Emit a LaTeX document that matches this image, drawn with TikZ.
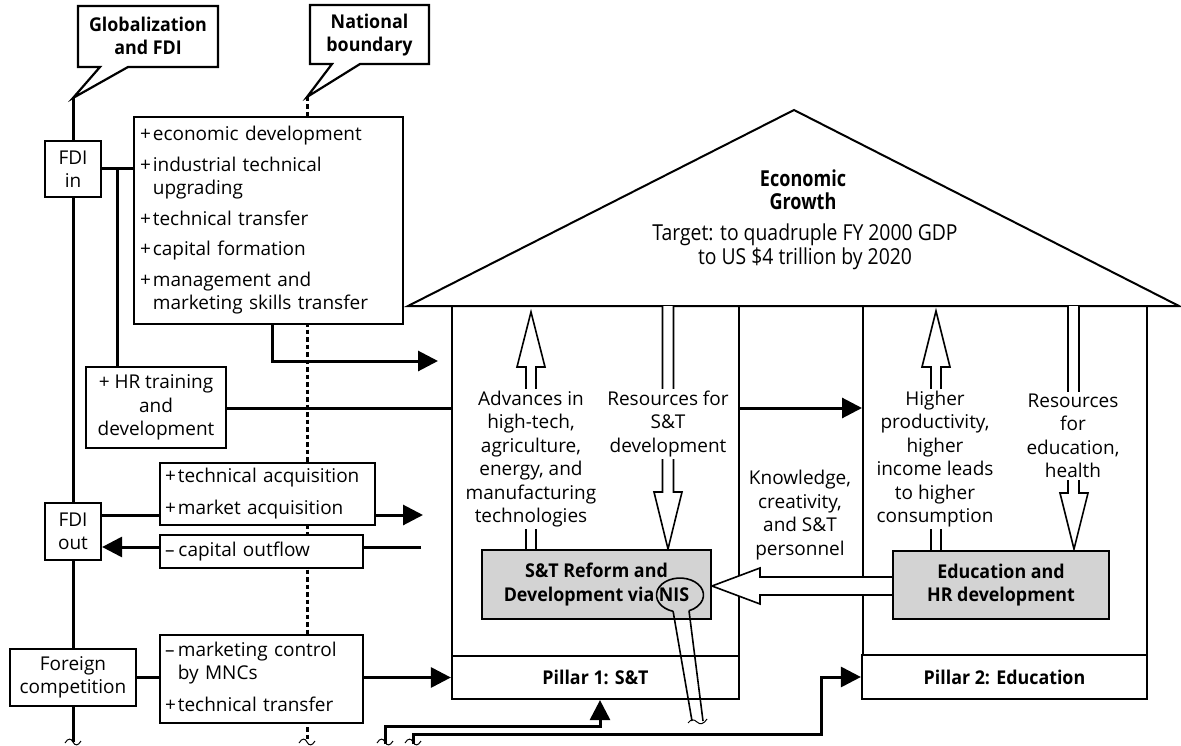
\documentclass[tikz,border=0pt]{standalone}
\usepackage{fontspec}
\setmainfont{Open Sans}
\usetikzlibrary{arrows.meta}
\newcommand\txtsize{\fontsize{19}{23.5}\selectfont}
\newcommand\roofsize{\fontsize{22}{23.5}\selectfont}
\newcommand\boldtxt{\bfseries\addfontfeature{FakeStretch=0.94}}
\definecolor{boxgray}{HTML}{D3D3D3}
\begin{document}
\begin{tikzpicture}[x=1pt,y=-1pt,
  conn/.style={line width=3pt},
  arr/.style={conn,-{Triangle[length=20pt,width=20pt]}},
  dotline/.style={line width=3pt,dash pattern=on 4.5pt off 3pt},
  wall/.style={line width=2pt},
  cbox/.style={draw,line width=2.2pt,fill=white,line join=miter},
  box/.style={draw,line width=2.2pt,fill=white,inner sep=0pt,font=\txtsize,align=center},
  graybox/.style={box,fill=boxgray,font=\txtsize\boldtxt},
  hollow/.style={draw,fill=white,line width=1.6pt,line join=miter},
  lbl/.style={fill=white,inner sep=2pt,font=\txtsize,align=center},
  brk/.pic={\draw[line width=1pt] (-8,1) .. controls (-5,-4) and (-2,-4) .. (0,0) .. controls (2,4) and (5,4) .. (8,-1);}
]
\useasboundingbox (0,0) rectangle (1181,746);

% ---------- vertical guide lines ----------
\coordinate (globtip) at (73,98);
\coordinate (nattip) at (307,97);
\draw[conn] (globtip) -- (73,742);
\draw[dotline] (nattip) -- (307,742);
\pic at (73,742) {brk};
\pic at (307,742) {brk};

% ---------- callouts ----------
\draw[cbox] (78,6) -- (218,6) -- (218,67) -- (128,67) -- (globtip) -- (100,67) -- (78,67) -- cycle;
\node[font=\txtsize\boldtxt,align=center] (glob) at (148,36) {Globalization\\and FDI};
\draw[cbox] (310,5) -- (429,5) -- (429,64) -- (360,64) -- (nattip) -- (332,64) -- (310,64) -- cycle;
\node[font=\txtsize\boldtxt,align=center] (nat) at (369.5,35) {National\\boundary};

% ---------- house ----------
\draw[wall,line join=miter] (408,306) -- (794,110) -- (1179,306) -- cycle;
\draw[wall] (452,306) -- (452,656);
\draw[wall] (739,306) -- (739,656);
\draw[wall] (863,306) -- (863,655);
\draw[wall] (1147,306) -- (1147,655);
\node[font={\roofsize\bfseries\addfontfeature{FakeStretch=0.82}},align=center] (eg) at (803,190) {Economic\\Growth};
\node[font={\roofsize\addfontfeature{FakeStretch=0.88}},align=center] (target) at (805,247) {Target: to quadruple FY 2000 GDP\\to US \$4 trillion by 2020};

% hollow arrows inside the pillars
\draw[hollow] (526,551) -- (526,367) -- (517,367) -- (531,312) -- (545,367) -- (536,367) -- (536,551);
\draw[hollow] (662.5,306) -- (662.5,492) -- (654,492) -- (668,549) -- (682,492) -- (673.5,492) -- (673.5,306);
\draw[hollow] (931,551) -- (931,367) -- (922,367) -- (936,311) -- (950,367) -- (941,367) -- (941,551);
\draw[hollow] (1068,306) -- (1068,493) -- (1060,493) -- (1074,549) -- (1088,493) -- (1079,493) -- (1079,306);

\node[lbl] (adv) at (531,459) {Advances in\\high-tech,\\agriculture,\\energy, and\\manufacturing\\technologies};
\node[lbl] (res) at (668,424) {Resources for\\S\&T\\development};
\node[lbl] (know) at (800,515) {Knowledge,\\creativity,\\and S\&T\\personnel};
\node[lbl] (higher) at (935,459) {Higher\\productivity,\\higher\\income leads\\to higher\\consumption};
\node[lbl] (resedu) at (1073,436) {Resources\\for\\education,\\health};

% knowledge flow from education to S&T
\draw[hollow] (893,577) -- (760,577) -- (760,568) -- (712,586) -- (760,604) -- (760,595) -- (893,595);

\node[graybox,minimum width=229pt,minimum height=69pt] (st) at (596.5,584.5) {S\&T Reform and\\Development via NIS};
\node[graybox,minimum width=216pt,minimum height=68pt] (edu) at (1001,585) {Education and\\HR development};
\node[box,minimum width=287pt,minimum height=43pt,font=\txtsize\boldtxt] (p1) at (595.5,677.5) {Pillar 1: S\&T};
\node[box,minimum width=285pt,minimum height=44pt,font=\txtsize\boldtxt] (p2) at (1004.5,677) {Pillar 2: Education};

% NIS magnifier
\draw[line width=1.6pt] (673.1,611.3) arc[start angle=107,end angle=427.5,x radius=23.5,y radius=17];
\draw[line width=1.6pt] (673.1,611.3) -- (692,721);
\draw[line width=1.6pt] (689,610.7) -- (703,721);
\draw[line width=1pt] (688,723) .. controls (691,719) and (694,719) .. (697,722) .. controls (700,725) and (704,724) .. (707,719);

% ---------- left-hand boxes ----------
\node[box,minimum width=56pt,minimum height=56pt] (fdiin) at (73,169) {FDI\\in};
\node[box,minimum width=269pt,minimum height=207pt,text width=257pt,align=left] (econ) at (268.5,220.5)
{\begin{tabular}{@{}l@{\hspace{2pt}}l@{}}
+&economic development\\[7pt]
+&industrial technical\\
 &upgrading\\[7pt]
+&technical transfer\\[7pt]
+&capital formation\\[7pt]
+&management and\\
 &marketing skills transfer
\end{tabular}};
\node[box,minimum width=140pt,minimum height=81pt] (hr) at (156,407.5) {+ HR training\\and\\development};
\node[box,minimum width=215pt,minimum height=62pt,text width=205pt,align=left] (tech) at (267.5,494)
{\begin{tabular}{@{}l@{\hspace{2pt}}l@{}}
+&technical acquisition\\[8pt]
+&market acquisition
\end{tabular}};
\node[box,minimum width=56pt,minimum height=57pt] (fdiout) at (73,531.5) {FDI\\out};
\node[box,minimum width=203pt,minimum height=33pt,text width=193pt,align=left] (cap) at (261.5,551.5)
{\begin{tabular}{@{}l@{\hspace{4pt}}l@{}}
--&capital outflow
\end{tabular}};
\node[box,minimum width=126pt,minimum height=57pt] (foreign) at (73,677.5) {Foreign\\competition};
\node[box,minimum width=203pt,minimum height=88pt,text width=193pt,align=left] (mkt) at (261.5,679)
{\begin{tabular}{@{}l@{\hspace{2pt}}l@{}}
--&marketing control\\
 &by MNCs\\[8pt]
+&technical transfer
\end{tabular}};

% ---------- connectors ----------
\coordinate (j1) at (117,169);
\draw[conn] (fdiin.east) -- (fdiin.east -| econ.west);
\draw[conn] (j1) -- (j1 |- hr.north);
\coordinate (e1) at (272,361);
\coordinate (e2) at (438,361);
\draw[arr] (econ.south -| e1) -- (e1) -- (e2);
\coordinate (w1) at (452,408);
\coordinate (w2) at (739,408);
\coordinate (w3) at (862,408);
\draw[conn] (hr.east |- w1) -- (w1);
\draw[arr] (w2) -- (w3);
\coordinate (t1) at (423,515);
\draw[conn] (fdiout.east |- t1) -- (tech.west |- t1);
\draw[arr] (tech.east |- t1) -- (t1);
\coordinate (c1) at (421,547);
\draw[conn] (c1) -- (cap.east |- c1);
\draw[arr] (cap.west |- c1) -- (fdiout.east |- c1);
\draw[conn] (foreign.east) -- (foreign.east -| mkt.west);
\draw[arr] (mkt.east |- p1.west) -- (p1.west);
\coordinate (a0) at (385,744);
\coordinate (a1) at (385,726);
\coordinate (a2) at (600,726);
\draw[arr] (a0) -- (a1) -- (a2) -- (a2 |- p1.south);
\pic at (385,742) {brk};
\coordinate (b0) at (413,744);
\coordinate (b1) at (413,734);
\coordinate (b2) at (821,734);
\draw[arr] (b0) -- (b1) -- (b2) -- (b2 |- p2.west) -- (p2.west);
\pic at (413,742) {brk};
\end{tikzpicture}
\end{document}
